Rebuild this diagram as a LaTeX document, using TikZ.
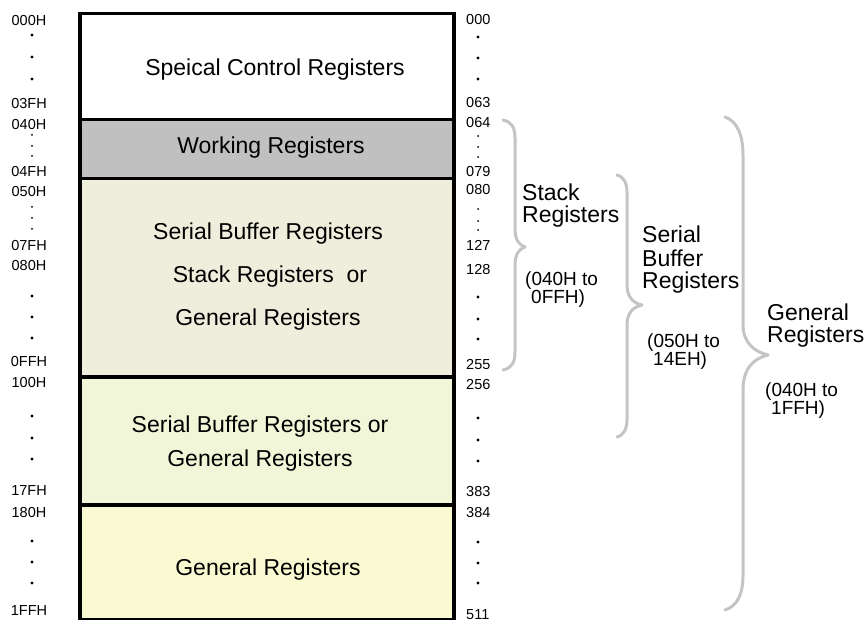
\documentclass[tikz,border=0pt]{standalone}
\usepackage{fontspec}
\setmainfont{Liberation Sans}
\definecolor{wgray}{HTML}{C0C0C0}
\definecolor{beige}{HTML}{EFEEDC}
\definecolor{lgreen}{HTML}{F1F6D8}
\definecolor{lyellow}{HTML}{FAFAD2}
\definecolor{bracegray}{HTML}{C4C4C4}
\tikzset{
  blk/.style={draw=black, line width=3.5pt, minimum width=374pt, inner sep=0pt, anchor=north},
  boxtxt/.style={font=\fontsize{23}{27}\selectfont, anchor=base, inner sep=0pt},
  addr/.style={font=\fontsize{14.5}{16}\selectfont, inner sep=0pt},
  bigdot/.style={fill=black, circle, inner sep=0pt, minimum size=3.2pt},
  smalldot/.style={fill=black, circle, inner sep=0pt, minimum size=2pt},
  brc/.style={draw=bracegray, line width=3pt, line cap=round, line join=round},
  bname/.style={font=\fontsize{23}{27}\selectfont, anchor=base west, inner sep=0pt},
  brange/.style={font=\fontsize{19}{22}\selectfont, anchor=base west, inner sep=0pt}
}
\begin{document}
\begin{tikzpicture}[x=1pt, y=-1pt]
\useasboundingbox (0,0) rectangle (867,620);
% blocks
\node[blk, fill=white,   minimum height=106pt] (b1) at (267,12) {};
\node[blk, fill=wgray,   minimum height=59pt]  (b2) at (267,118) {};
\node[blk, fill=beige,   minimum height=198pt] (b3) at (267,177) {};
\node[blk, fill=lgreen,  minimum height=128pt] (b4) at (267,375) {};
\node[blk, fill=lyellow, minimum height=115pt] (b5) at (267,503) {};
% block texts
\node[boxtxt] (t1) at (275,76) {Speical Control Registers};
\node[boxtxt] (t2) at (271,154) {Working Registers};
\node[boxtxt] (t3a) at (268,240) {Serial Buffer Registers};
\node[boxtxt] (t3b) at (270,283) {Stack Registers\ \ or};
\node[boxtxt] (t3c) at (268,325) {General Registers};
\node[boxtxt] (t4a) at (260,432) {Serial Buffer Registers or};
\node[boxtxt] (t4b) at (260,466) {General Registers};
\node[boxtxt] (t5) at (268,575) {General Registers};
% left addresses
\foreach \t/\y [count=\i] in {000H/21,03FH/104,040H/125,04FH/172,050H/192,07FH/246,080H/266,0FFH/362,100H/383,17FH/491,180H/513,1FFH/611}
  \node[addr] (l\i) at (29,\y) {\t};
\foreach \y [count=\i] in {35,57,79,296,317,338,416,438,459,541,562,583}
  \node[bigdot] (lb\i) at (32,\y) {};
\foreach \y [count=\i] in {135,146,156,207,218,229}
  \node[smalldot] (ls\i) at (32,\y) {};
% right addresses
\foreach \t/\y [count=\i] in {000/20,063/103,064/123,079/172,080/190,127/245,128/270,255/365,256/385,383/492,384/513,511/615}
  \node[addr, anchor=west] (r\i) at (466,\y) {\t};
\foreach \y [count=\i] in {37,58,79,297,319,339,418,440,461,542,563,583}
  \node[bigdot] (rb\i) at (478,\y) {};
\foreach \y [count=\i] in {136,147,157,209,221,230}
  \node[smalldot] (rs\i) at (478,\y) {};
% braces
\draw[brc] (503,120) .. controls (512,122) and (515,128) .. (515,138) -- (515,228)
  .. controls (515,240) and (519,245) .. (525,247)
  .. controls (519,249) and (515,254) .. (515,266) -- (515,352)
  .. controls (515,362) and (512,368) .. (503,370);
\draw[brc] (617,175) .. controls (624,177) and (627,183) .. (627,193) -- (627,285)
  .. controls (627,297) and (633,303) .. (642,305)
  .. controls (633,307) and (627,313) .. (627,325) -- (627,419)
  .. controls (627,429) and (624,435) .. (617,437);
\draw[brc] (725,117) .. controls (737,121) and (743,135) .. (743,155) -- (743,325)
  .. controls (743,343) and (755,352) .. (768,355)
  .. controls (755,358) and (743,367) .. (743,390) -- (743,575)
  .. controls (743,595) and (737,606) .. (725,610);
% brace labels
\node[bname] (s1) at (522,201) {Stack};
\node[bname] (s2) at (522,223) {Registers};
\node[brange] (s3) at (525,285) {(040H to};
\node[brange] (s4) at (531,303) {0FFH)};
\node[bname] (sb1) at (642,243) {Serial};
\node[bname] (sb2) at (642,266) {Buffer};
\node[bname] (sb3) at (642,288) {Registers};
\node[brange] (sb4) at (647,347) {(050H to};
\node[brange] (sb5) at (653,365) {14EH)};
\node[bname] (g1) at (767,320) {General};
\node[bname] (g2) at (767,342) {Registers};
\node[brange] (g3) at (765,396) {(040H to};
\node[brange] (g4) at (771,414) {1FFH)};
\end{tikzpicture}
\end{document}
